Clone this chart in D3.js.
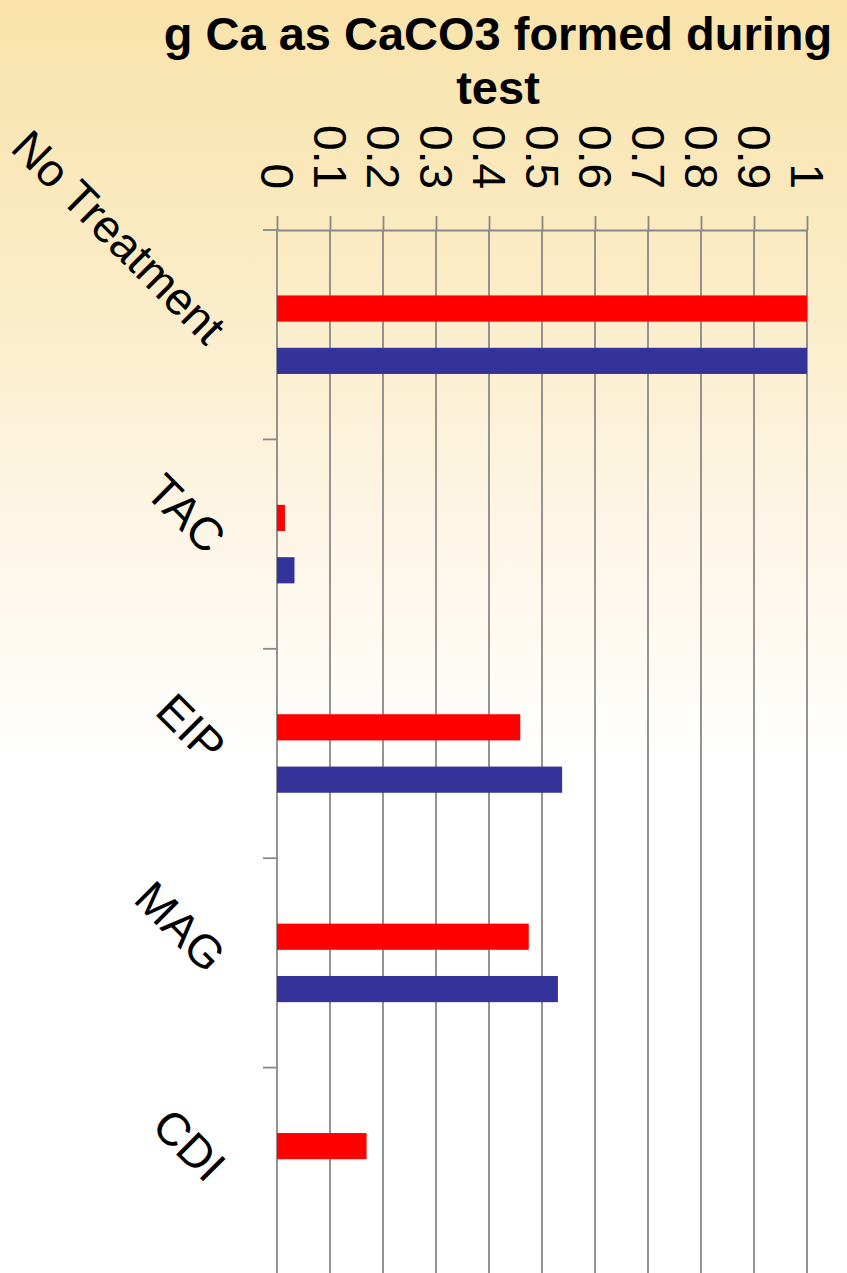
<!DOCTYPE html>
<html>
<head>
<meta charset="utf-8">
<script src="https://cdn.jsdelivr.net/npm/d3@7"></script>
<style>
  html, body { margin: 0; padding: 0; background: #fff; }
  svg { display: block; }
  text { font-family: "Liberation Sans", Arial, sans-serif; fill: #000; }
</style>
</head>
<body>
<svg id="chart" width="847" height="1273"></svg>
<script>
// Calcium precipitated as CaCO3 per treatment, two test runs
const categories = ["No Treatment", "TAC", "EIP", "MAG", "CDI"];
const seriesNames = ["Run 1", "Run 2"];
const run1 = [1.0, 0.015, 0.459, 0.475, 0.169];
const run2 = [1.0, 0.033, 0.538, 0.530, 0];
const tickValues = [0, 0.1, 0.2, 0.3, 0.4, 0.5, 0.6, 0.7, 0.8, 0.9, 1];
const tickLabels = ["0", "0.1", "0.2", "0.3", "0.4", "0.5", "0.6", "0.7", "0.8", "0.9", "1"];
const titleLines = ["g Ca as CaCO3 formed during", "test"];
const colors = ["#ff0000", "#333399"];

const W = 847, H = 1273;
const plot = { left: 277, right: 807, top: 230, bottom: 1277 };

const svg = d3.select("#chart");

// warm backdrop fading to white
const defs = svg.append("defs");
const grad = defs.append("linearGradient")
  .attr("id", "bg").attr("x1", 0).attr("y1", 0).attr("x2", 0).attr("y2", 1);
[[0, "#f9e3aa"], [0.2, "#fbebc3"], [0.4, "#fdf5e4"], [0.6, "#ffffff"], [1, "#ffffff"]]
  .forEach(([o, c]) => grad.append("stop").attr("offset", o).attr("stop-color", c));
svg.append("rect").attr("width", W).attr("height", H).attr("fill", "url(#bg)");

const x = d3.scaleLinear().domain([0, 1]).range([plot.left, plot.right]);
const y = d3.scaleBand().domain(categories).range([plot.top, plot.bottom]);
const yInner = d3.scaleBand().domain(seriesNames).range([0, y.bandwidth()])
  .paddingInner(0.5).paddingOuter(1.25);

const grid = "#888888";

// vertical gridlines
svg.append("g").selectAll("line").data(tickValues).join("line")
  .attr("x1", d => x(d)).attr("x2", d => x(d))
  .attr("y1", plot.top).attr("y2", plot.bottom)
  .attr("stroke", grid).attr("stroke-width", 1.8);

// value axis along the top
const xAxis = svg.append("g")
  .attr("transform", `translate(0,${plot.top})`)
  .call(d3.axisTop(x).tickValues(tickValues)
    .tickFormat((d, i) => tickLabels[i]).tickSizeInner(14).tickSizeOuter(0));
xAxis.select(".domain").attr("stroke", grid).attr("stroke-width", 1.8);
xAxis.selectAll(".tick line").attr("stroke", grid).attr("stroke-width", 1.8);
xAxis.selectAll(".tick text")
  .attr("x", 0).attr("y", 0).attr("dy", "0.36em")
  .attr("transform", "translate(0,-41) rotate(90)")
  .attr("text-anchor", "end")
  .style("font-family", "'Liberation Sans', Arial, sans-serif")
  .style("font-size", "46px")
  .attr("fill", "#000");

// category axis ticks at band boundaries
const boundaries = categories.map(c => y(c)).concat([plot.bottom]);
svg.append("g").selectAll("line").data(boundaries).join("line")
  .attr("x1", plot.left - 14).attr("x2", plot.left)
  .attr("y1", d => d).attr("y2", d => d)
  .attr("stroke", grid).attr("stroke-width", 1.8);

// bars
const rows = categories.map((c, i) => ({ cat: c, vals: [run1[i], run2[i]] }));
svg.append("g").selectAll("g").data(rows).join("g")
  .attr("transform", d => `translate(0,${y(d.cat)})`)
  .selectAll("rect")
  .data(d => d.vals.map((v, j) => ({ v, s: seriesNames[j], j })).filter(e => e.v > 0))
  .join("rect")
  .attr("x", x(0))
  .attr("y", d => yInner(d.s))
  .attr("width", d => x(d.v) - x(0))
  .attr("height", yInner.bandwidth())
  .attr("fill", d => colors[d.j]);

// category labels, slanted
svg.append("g").selectAll("text").data(categories).join("text")
  .attr("transform", d => `translate(206,${y(d) + y.bandwidth() / 2 + 12}) rotate(45)`)
  .attr("text-anchor", "end")
  .style("font-size", "46px")
  .text(d => d);

// title
svg.append("g").selectAll("text").data(titleLines).join("text")
  .attr("x", 498)
  .attr("y", (d, i) => 50 + i * 54)
  .attr("text-anchor", "middle")
  .style("font-size", "47px")
  .style("font-weight", "bold")
  .text(d => d);
</script>
</body>
</html>
